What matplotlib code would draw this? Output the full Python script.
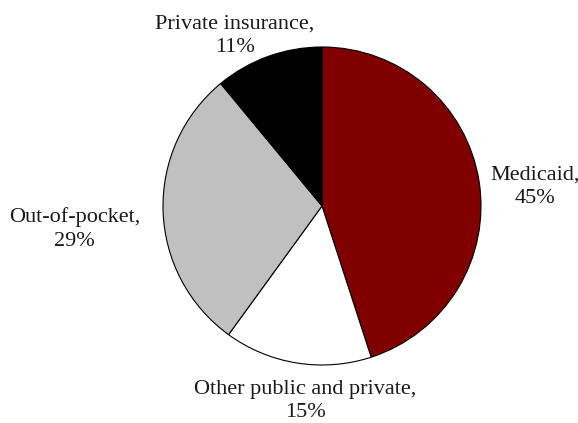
import matplotlib
matplotlib.use("Agg")
import matplotlib.pyplot as plt

labels = ["Medicaid", "Other public and private", "Out-of-pocket", "Private insurance"]
shares = [45, 15, 29, 11]
colors = ["#800000", "#FFFFFF", "#C0C0C0", "#000000"]

# label anchor spots (pie radius units) and alignment
label_pos = [(1.057, 0.123, "left"), (-0.107, -1.226, "center"),
             (-1.145, -0.145, "right"), (-0.547, 1.069, "center")]

plt.rcParams['font.family'] = ['Liberation Serif', 'DejaVu Serif']

fig = plt.figure(figsize=(5.78, 4.23), dpi=100)
r = 159
ax = fig.add_axes([(322 - r) / 578, (423 - 206 - r) / 423, 2 * r / 578, 2 * r / 423])
ax.pie(shares, colors=colors, startangle=90, counterclock=False, radius=1,
       wedgeprops=dict(edgecolor="black", linewidth=0.8))
ax.set_xlim(-1, 1)
ax.set_ylim(-1, 1)
ax.set_aspect("auto")
ax.axis("off")

for lab, s, (x, y, ha) in zip(labels, shares, label_pos):
    ax.text(x, y, f"{lab},\n{s}%", ha=ha, va="center", multialignment="center",
            fontsize=16, color="#1a1a1a", linespacing=1.32, clip_on=False)

fig.savefig("out.png", dpi=100, facecolor="white")
